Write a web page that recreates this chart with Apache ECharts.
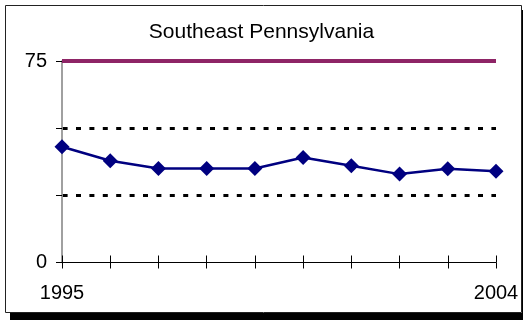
<!DOCTYPE html>
<html>
<head>
<meta charset="utf-8">
<script src="https://cdn.jsdelivr.net/npm/echarts@6/dist/echarts.min.js"></script>
<style>
  html, body { margin: 0; padding: 0; background: #fff; }
  #chart { width: 523px; height: 320px; }
</style>
</head>
<body>
<div id="chart"></div>
<script>
// Annual values, Southeast Pennsylvania
const years = ['1995', '1996', '1997', '1998', '1999', '2000', '2001', '2002', '2003', '2004'];
const values = [43.1, 37.9, 35.0, 35.0, 35.0, 39.1, 36.0, 32.9, 34.9, 34.0];
const standardLevel = 75;
const yTickLabels = [0, 75];
const xTickLabels = ['1995', '2004'];

const FONT = '"Liberation Sans", Arial, sans-serif';
const CLEAR = 'rgba(0,0,0,0)';

const chart = echarts.init(document.getElementById('chart'), null, { renderer: 'canvas' });

chart.setOption({
  animation: false,
  backgroundColor: '#ffffff',
  title: {
    text: 'Southeast Pennsylvania',
    left: 'center',
    top: 17,
    textStyle: { fontFamily: FONT, fontSize: 21, fontWeight: 'normal', color: '#000' }
  },
  graphic: [
    // drop shadow below and right of the frame
    { type: 'rect', shape: { x: 10, y: 313, width: 513, height: 7 }, style: { fill: '#000' }, z: 0 },
    { type: 'rect', shape: { x: 522, y: 10, width: 1, height: 310 }, style: { fill: '#000' }, z: 0 },
    // frame
    { type: 'rect', shape: { x: 5.5, y: 5.5, width: 516, height: 307 },
      style: { fill: 'none', stroke: '#222', lineWidth: 1 }, z: 1 }
  ],
  grid: { left: 62, right: 27, top: 61, bottom: 57.5, containLabel: false },
  xAxis: [
    {
      type: 'category',
      data: years,
      boundaryGap: false,
      position: 'bottom',
      axisLine: { lineStyle: { color: '#000', width: 1 } },
      axisTick: { show: true, inside: false, length: 6, alignWithLabel: true, lineStyle: { color: '#000' } },
      axisLabel: {
        interval: 0,
        margin: 21,
        fontFamily: FONT, fontSize: 20, color: '#000',
        formatter: v => (xTickLabels.includes(v) ? v : '')
      },
      splitLine: { show: false }
    },
    {
      type: 'category',
      data: years,
      boundaryGap: false,
      position: 'bottom',
      axisLine: { show: false },
      axisTick: { show: true, inside: true, length: 7, lineStyle: { color: '#000' } },
      axisLabel: { show: false },
      splitLine: { show: false }
    }
  ],
  yAxis: {
    type: 'value',
    min: 0,
    max: 75,
    interval: 25,
    axisLine: { show: true, lineStyle: { color: '#808080', width: 1.5 } },
    axisTick: { show: true, inside: false, length: 6, lineStyle: { color: '#000' } },
    axisLabel: {
      margin: 15,
      fontFamily: FONT, fontSize: 20, color: '#000',
      formatter: v => (yTickLabels.includes(v) ? String(v) : '')
    },
    splitLine: {
      show: true,
      // dotted guides at 25 and 50 only
      lineStyle: { color: [CLEAR, '#000', '#000', CLEAR], width: 3, type: [5, 8.4], dashOffset: -0.6 }
    }
  },
  series: [
    {
      name: 'Southeast Pennsylvania',
      type: 'line',
      data: values,
      symbol: 'diamond',
      symbolSize: 15,
      lineStyle: { color: '#000080', width: 2.5 },
      itemStyle: { color: '#000080' },
      z: 5,
      markLine: {
        silent: true,
        symbol: ['none', 'none'],
        label: { show: false },
        lineStyle: { color: '#8E2466', width: 4, type: 'solid' },
        data: [{ yAxis: standardLevel }],
        z: 4
      }
    }
  ]
});
</script>
</body>
</html>
